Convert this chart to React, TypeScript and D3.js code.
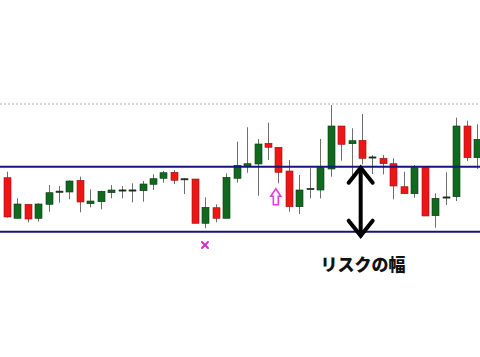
import React from "react";
import * as d3 from "d3";

// OHLC series (price units)
const opens = [179.3, 138.7, 152.7, 138.7, 152.7, 164, 165, 176.7, 153.3, 155.3, 164.3, 166.3, 166.3, 166.3, 172.7, 178.7, 184.7, 176.7, 178, 133.7, 149.3, 138.7, 178.7, 190.3, 193, 213.7, 209.7, 186, 150.3, 167.5, 167, 188, 231, 213.3, 216.7, 199.5, 198.7, 193.3, 170.3, 163.3, 189.3, 141.3, 159.5, 160.3, 231, 199.3];
const highs = [185.3, 158.7, 153, 153.7, 172, 171, 176.7, 180.3, 167.7, 166.3, 172, 171, 173.7, 176, 182.7, 186, 187, 178.7, 178, 159.7, 152.7, 183.7, 215.3, 229.7, 218, 234.3, 209.7, 197, 182, 188.7, 218, 252, 231, 228.7, 243, 202, 202, 198.7, 185.3, 192, 189.3, 163.7, 184.7, 239.3, 236.3, 232.7];
const lows = [139.3, 138.5, 134.7, 135.3, 145.3, 154.3, 157.7, 144.7, 149.7, 147.7, 158.7, 158.7, 154.7, 155.3, 167, 174.3, 173, 163, 133.7, 128.7, 134.7, 138.7, 174.3, 184.3, 161.3, 197, 173.7, 145.3, 143, 158.7, 158.7, 180.3, 196.3, 179, 192.7, 183, 182.7, 157.7, 163.3, 159.3, 141, 129.3, 152, 156, 196, 188];
const closes = [140, 153, 138, 153, 164.3, 165.3, 176, 155, 156, 165.7, 167, 166.5, 166.5, 173, 178.3, 184.3, 176.7, 177.7, 133.7, 149.7, 138.7, 179.7, 191.7, 193.3, 213, 209.7, 184.7, 150.3, 167, 168, 189.3, 231, 212.7, 216.3, 198.7, 199, 193.3, 171, 163.3, 189.3, 141, 158.7, 159, 231, 199.3, 217.7];

// Horizontal reference levels
const resistanceLevel = 190.3;
const supportLevel = 125.3;
const recentHighLevel = 253;

// Annotations
const crossIndex = 19;
const crossPrice = 112;
const signalIndex = 26;
const signalTop = 168.3;
const signalBottom = 152.3;
const riskArrowIndex = 33.87;
const riskArrowBottom = 120.3;
const riskLabel = "リスクの幅";

const W = 480;
const H = 357;

export default function App() {
  const x = d3.scaleLinear().domain([0, opens.length - 1]).range([6.7, 477]);
  const y = d3.scaleLinear().domain([0, H]).range([H, 0]);
  const bodyW = 7;

  const candles = opens.map((o, i) => ({
    i,
    o,
    h: highs[i],
    l: lows[i],
    c: closes[i],
  }));

  const ax = x(riskArrowIndex);
  const aTop = y(resistanceLevel);
  const aBot = y(riskArrowBottom);

  const sx = x(signalIndex) - 2.6;
  const sTop = y(signalTop);
  const sBot = y(signalBottom);
  const sHead = sTop + 7.5;

  const cx = x(crossIndex) - 0.3;
  const cy = y(crossPrice);

  return (
    <svg
      width={W}
      height={H}
      style={{ position: "absolute", left: 0, top: 0, background: "#fff" }}
    >
      <rect x={0} y={0} width={W} height={H} fill="#fff" />
      {/* recent high, dotted */}
      <line
        x1={0}
        x2={W}
        y1={y(recentHighLevel)}
        y2={y(recentHighLevel)}
        stroke="#b0b0b0"
        strokeWidth={1}
        strokeDasharray="2,2"
      />
      {/* wicks */}
      {candles.map((d) => (
        <line
          key={"w" + d.i}
          x1={Math.round(x(d.i)) + 0.5}
          x2={Math.round(x(d.i)) + 0.5}
          y1={y(d.h)}
          y2={y(d.l)}
          stroke="#6e6e6e"
          strokeWidth={1}
        />
      ))}
      {/* bodies */}
      {candles.map((d) => {
        const up = d.c >= d.o;
        const top = y(Math.max(d.o, d.c));
        const bot = y(Math.min(d.o, d.c));
        const hgt = Math.max(bot - top, 1.2);
        const doji = bot - top < 1.5;
        return (
          <rect
            key={"b" + d.i}
            x={Math.round(x(d.i)) + 0.5 - bodyW / 2}
            y={doji ? top - 0.6 : top}
            width={bodyW}
            height={hgt}
            fill={doji ? "#1a2a1a" : up ? "#11691f" : "#ee1515"}
            stroke={doji ? "#1a2a1a" : up ? "#0a3a10" : "#a01010"}
            strokeWidth={0.6}
          />
        );
      })}
      {/* range lines */}
      {[resistanceLevel, supportLevel].map((lv) => (
        <line
          key={"lv" + lv}
          x1={0}
          x2={W}
          y1={y(lv)}
          y2={y(lv)}
          stroke="#16167a"
          strokeWidth={2}
        />
      ))}
      {/* cross marker */}
      <g stroke="#d030d0" strokeWidth={2} strokeLinecap="round">
        <line x1={cx - 3} y1={cy - 3} x2={cx + 3} y2={cy + 3} />
        <line x1={cx - 3} y1={cy + 3} x2={cx + 3} y2={cy - 3} />
      </g>
      {/* hollow up arrow */}
      <path
        d={`M${sx},${sTop} L${sx + 5},${sHead} L${sx + 2.5},${sHead} L${sx + 2.5},${sBot} L${sx - 2.5},${sBot} L${sx - 2.5},${sHead} L${sx - 5},${sHead} Z`}
        fill="#fff"
        stroke="#e040e0"
        strokeWidth={1.6}
        strokeLinejoin="miter"
      />
      {/* risk width arrow */}
      <g stroke="#000" strokeWidth={4} fill="none" strokeLinecap="round" strokeLinejoin="miter">
        <line x1={ax} y1={aTop + 1.5} x2={ax} y2={aBot - 1.5} />
        <polyline points={`${ax - 12},${aTop + 16} ${ax},${aTop + 1} ${ax + 12},${aTop + 16}`} />
        <polyline points={`${ax - 12},${aBot - 16} ${ax},${aBot - 1} ${ax + 12},${aBot - 16}`} />
      </g>
      <text
        x={363}
        y={271}
        textAnchor="middle"
        fontFamily="'Noto Sans CJK JP', sans-serif"
        fontWeight={900}
        fontSize={17}
        fill="#111"
      >
        {riskLabel}
      </text>
    </svg>
  );
}
